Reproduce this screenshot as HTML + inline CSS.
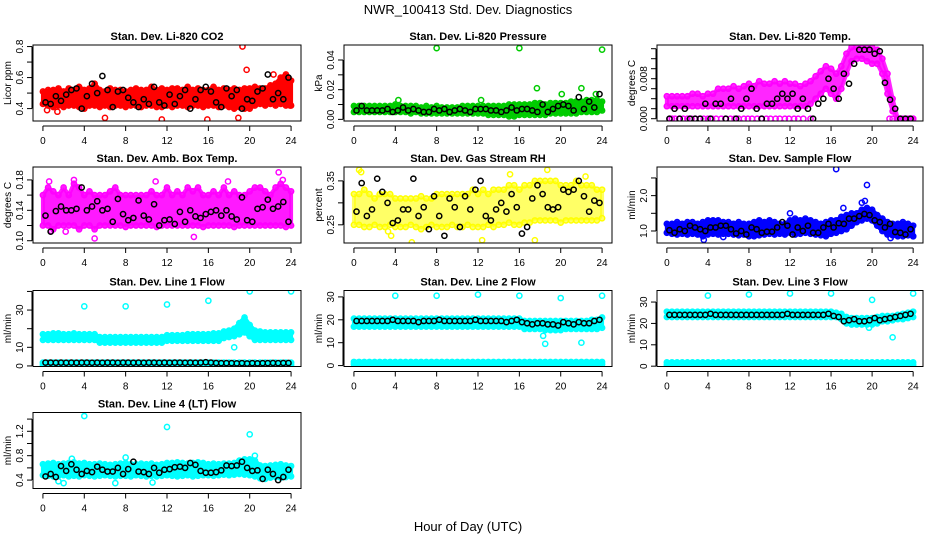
<!DOCTYPE html>
<html><head><meta charset="utf-8"><style>
html,body{margin:0;padding:0;background:#fff;}
svg{display:block;font-family:"Liberation Sans",sans-serif;}
</style></head><body>
<svg id="chart" width="936" height="540" viewBox="0 0 936 540" xmlns="http://www.w3.org/2000/svg">
<rect width="936" height="540" fill="#fff"/>
<text x="468" y="14" font-size="13" text-anchor="middle">NWR_100413  Std. Dev. Diagnostics</text>
<text x="468" y="531" font-size="13" text-anchor="middle">Hour of Day (UTC)</text>
</svg>
<script>
const xTicks = [0,4,8,12,16,20,24];
// CO2
const co2Lo=[0.43,0.42,0.41,0.42,0.41,0.42,0.42,0.41,0.40,0.42,0.42,0.41,0.42,0.41,0.42,0.42,0.41,0.42,0.42,0.41,0.42,0.42,0.41,0.41,0.42,0.41,0.42,0.42,0.41,0.42,0.42,0.41,0.42,0.42,0.41,0.42,0.41,0.40,0.41,0.40,0.40,0.42,0.43,0.42,0.43,0.42,0.43,0.42,0.42];
const co2Hi=[0.51,0.52,0.52,0.53,0.51,0.53,0.52,0.54,0.52,0.53,0.56,0.52,0.51,0.53,0.52,0.52,0.51,0.52,0.53,0.52,0.52,0.54,0.52,0.53,0.52,0.53,0.53,0.52,0.54,0.52,0.53,0.52,0.52,0.54,0.52,0.53,0.52,0.53,0.52,0.53,0.53,0.54,0.53,0.53,0.55,0.56,0.60,0.62,0.58];
const co2Black=[0.44,0.43,0.48,0.45,0.49,0.52,0.53,0.40,0.48,0.56,0.50,0.61,0.52,0.41,0.51,0.52,0.47,0.44,0.41,0.46,0.43,0.54,0.44,0.42,0.49,0.43,0.48,0.52,0.40,0.46,0.52,0.54,0.51,0.44,0.41,0.53,0.48,0.52,0.40,0.46,0.45,0.51,0.53,0.62,0.46,0.50,0.46,0.60];
const co2OutX=[19.3,19.7,11.5,15.9,6,18.9,0.4,1.4,22.3,23.9];
const co2OutY=[0.8,0.65,0.33,0.33,0.34,0.34,0.39,0.38,0.62,0.42];
// Pressure
const presLo=[0.005,0.005,0.005,0.005,0.005,0.005,0.005,0.005,0.005,0.005,0.005,0.004,0.005,0.004,0.004,0.004,0.004,0.004,0.004,0.004,0.004,0.004,0.004,0.004,0.004,0.004,0.003,0.003,0.003,0.003,0.002,0.002,0.003,0.003,0.003,0.003,0.003,0.003,0.004,0.004,0.004,0.004,0.004,0.004,0.005,0.005,0.005,0.005,0.006];
const presHi=[0.009,0.009,0.009,0.009,0.009,0.009,0.009,0.009,0.010,0.009,0.009,0.009,0.009,0.008,0.009,0.008,0.009,0.008,0.008,0.008,0.008,0.009,0.009,0.009,0.009,0.009,0.009,0.009,0.009,0.009,0.010,0.010,0.010,0.010,0.010,0.011,0.011,0.010,0.011,0.011,0.011,0.011,0.012,0.012,0.012,0.013,0.013,0.013,0.012];
const presBlack=[0.006,0.009,0.006,0.006,0.006,0.006,0.007,0.005,0.006,0.008,0.006,0.007,0.006,0.005,0.005,0.007,0.006,0.007,0.005,0.006,0.007,0.006,0.005,0.007,0.007,0.007,0.006,0.006,0.005,0.006,0.008,0.006,0.007,0.007,0.006,0.005,0.010,0.005,0.007,0.009,0.010,0.009,0.006,0.015,0.007,0.012,0.008,0.017];
const presOutX=[8,16,24,17.7,20.1,22,23.4,4.3,12.3];
const presOutY=[0.048,0.048,0.047,0.021,0.017,0.021,0.017,0.013,0.013];
// Li-820 Temp
const tempLo=[0.0025,0.0025,0.0025,0.0025,0.0025,0.0025,0.0025,0.0025,0.0025,0.0025,0.0025,0.0025,0.0025,0.0025,0.0025,0.0025,0.0025,0.0025,0.0025,0.0025,0.0025,0.0025,0.0025,0.0025,0.0025,0.0025,0.0025,0.0025,0.003,0.004,0.005,0.006,0.005,0.004,0.006,0.009,0.0115,0.012,0.012,0.0115,0.011,0.011,0.009,0.005,0.0015,0,0,0,0];
const tempHi=[0.0045,0.0045,0.0045,0.0045,0.0045,0.005,0.005,0.0045,0.005,0.005,0.006,0.006,0.006,0.0065,0.006,0.0065,0.007,0.0065,0.0075,0.007,0.007,0.0075,0.007,0.0075,0.007,0.007,0.0065,0.007,0.0075,0.0085,0.0095,0.0105,0.010,0.009,0.0105,0.013,0.0143,0.0143,0.0142,0.0143,0.0143,0.0138,0.012,0.009,0.004,0,0,0,0];
const tempBlack=[0,0.002,0,0.002,0,0,0,0.003,0,0.003,0.003,0,0.004,0,0.002,0.004,0.006,0.002,0,0.003,0.003,0.004,0.005,0.004,0.005,0.002,0.004,0.002,0,0.003,0.004,0.008,0.006,0.004,0.009,0.007,0.011,0.0138,0.0138,0.0138,0.0130,0.0135,0.0072,0.0038,0.002,0,0,0];
const tempOutX=[0.3,0.5,0.8,1.2,1.6,2.0,2.4,2.8,3.2,3.6,4.0,4.4,4.8,5.3,5.7,6.2,6.6,7.0,7.5,7.9,8.3,8.8,9.2,9.7,10.1,10.6,11.0,11.5,11.9,12.4,12.8,13.3,14.0,21.7,22.0,22.4,22.8,23.2,23.6,24.0];
const tempOutY=[0,0,0,0,0,0,0,0,0,0,0,0,0,0,0,0,0,0,0,0,0,0,0,0,0,0,0,0,0,0,0,0,0,0,0,0,0,0,0,0];
// Amb box temp
const ambLo=[0.12,0.12,0.115,0.12,0.12,0.12,0.12,0.115,0.12,0.12,0.115,0.12,0.12,0.12,0.12,0.12,0.118,0.12,0.12,0.12,0.12,0.12,0.118,0.12,0.12,0.12,0.12,0.12,0.12,0.12,0.12,0.118,0.12,0.12,0.12,0.12,0.12,0.118,0.12,0.12,0.12,0.12,0.12,0.12,0.12,0.12,0.12,0.118,0.12];
const ambHi=[0.16,0.17,0.165,0.16,0.17,0.16,0.175,0.17,0.16,0.165,0.16,0.16,0.16,0.165,0.17,0.16,0.16,0.16,0.16,0.16,0.16,0.165,0.16,0.16,0.17,0.16,0.165,0.16,0.17,0.165,0.17,0.16,0.16,0.165,0.16,0.17,0.16,0.165,0.16,0.16,0.165,0.17,0.17,0.165,0.16,0.17,0.175,0.17,0.165];
const ambBlack=[0.133,0.112,0.139,0.145,0.140,0.140,0.142,0.170,0.140,0.145,0.152,0.140,0.142,0.125,0.155,0.135,0.127,0.130,0.153,0.133,0.128,0.148,0.120,0.127,0.128,0.122,0.138,0.125,0.140,0.132,0.130,0.135,0.138,0.140,0.133,0.140,0.132,0.128,0.157,0.127,0.125,0.142,0.144,0.154,0.142,0.145,0.151,0.125];
const ambOutX=[0.8,2.2,5,14.6,22.8,3,0.6,23.2,10.9,17.9];
const ambOutY=[0.113,0.112,0.103,0.105,0.19,0.18,0.178,0.18,0.178,0.178];
// RH
const rhLo=[0.25,0.25,0.245,0.245,0.25,0.245,0.245,0.25,0.245,0.245,0.245,0.25,0.245,0.24,0.245,0.25,0.245,0.245,0.245,0.25,0.245,0.245,0.25,0.245,0.245,0.245,0.25,0.245,0.25,0.25,0.255,0.25,0.25,0.255,0.255,0.26,0.26,0.26,0.26,0.26,0.255,0.26,0.26,0.26,0.26,0.26,0.26,0.26,0.265];
const rhHi=[0.32,0.32,0.33,0.32,0.31,0.32,0.32,0.32,0.31,0.31,0.31,0.31,0.31,0.315,0.31,0.31,0.32,0.32,0.32,0.32,0.32,0.32,0.32,0.33,0.32,0.33,0.32,0.33,0.33,0.33,0.34,0.34,0.33,0.34,0.34,0.35,0.35,0.35,0.35,0.35,0.34,0.34,0.34,0.35,0.34,0.34,0.34,0.33,0.33];
const rhBlack=[0.28,0.345,0.27,0.285,0.355,0.325,0.30,0.254,0.26,0.285,0.285,0.355,0.27,0.29,0.24,0.315,0.27,0.225,0.31,0.29,0.245,0.315,0.285,0.33,0.35,0.27,0.26,0.285,0.30,0.28,0.32,0.29,0.23,0.245,0.31,0.34,0.32,0.29,0.285,0.29,0.33,0.325,0.33,0.35,0.315,0.28,0.305,0.30];
const rhOutX=[0.5,0.7,5.6,17.5,18.7,3.3,3.6,12.4,15.1,22.4];
const rhOutY=[0.375,0.37,0.21,0.215,0.375,0.235,0.225,0.215,0.365,0.36];
// Sample flow
const sfLo=[0.95,0.92,0.9,0.92,0.9,0.92,0.9,0.85,0.9,0.92,0.9,0.92,0.92,0.9,0.88,0.9,0.85,0.85,0.88,0.9,0.92,0.9,0.92,0.9,0.95,0.9,0.92,0.95,0.92,0.9,0.88,0.85,0.92,0.95,1.0,1.05,1.15,1.25,1.3,1.35,1.3,1.15,1.0,0.9,0.88,0.85,0.85,0.88,0.85];
const sfHi=[1.2,1.2,1.25,1.2,1.25,1.25,1.2,1.25,1.3,1.3,1.3,1.25,1.25,1.2,1.25,1.2,1.2,1.25,1.3,1.25,1.3,1.25,1.2,1.2,1.3,1.35,1.3,1.35,1.3,1.25,1.2,1.25,1.3,1.3,1.4,1.45,1.5,1.5,1.6,1.65,1.6,1.45,1.35,1.25,1.2,1.2,1.25,1.2,1.15];
const sfBlack=[1.02,0.95,1.05,1.0,1.15,1.1,1.05,1.0,1.1,1.1,1.15,1.15,1.05,0.93,1.0,0.9,1.1,1.05,0.95,0.98,0.98,1.1,1.25,1.15,0.9,1.1,1.0,1.15,0.95,0.95,1.1,1.2,1.1,1.22,1.2,1.35,1.35,1.42,1.48,1.45,1.3,1.25,1.1,1.2,0.97,0.95,0.9,1.05];
const sfOutX=[16.5,19.5,19.3,19,17.2,12,3.6,5.5,21.8,24];
const sfOutY=[2.75,2.3,1.85,1.8,1.65,1.5,0.75,0.83,0.8,0.85];
// Line 1
const l1Lo=[14,14,14,14,14,14,14,14,14,14,14,12.5,12.5,12.5,12.5,12.5,12.5,12.5,12.5,12.5,12.5,12.5,12.5,12.5,13.5,13.5,13.5,13.5,13.5,13.5,13.5,13.5,13.5,13.5,13.5,15,15.5,16,17,18,16,14,14,14,14,14,14,14,14];
const l1Hi=[17,17,17.5,17.5,17,17,17.5,17,17,17,17,15.5,15.5,15.5,15.5,15.5,15.5,15.5,15.5,15.5,15.5,15.5,15.5,15.5,16.5,16.5,16.5,16.5,17,17,17,17,17,17.5,17.5,18.5,19,20,23,26,22,19,18.5,18,18,18,18,18,18];
const l1BaseLo=[0.6,0.6,0.6,0.6,0.6,0.6,0.6,0.6,0.6,0.6,0.6,0.6,0.6,0.6,0.6,0.6,0.6,0.6,0.6,0.6,0.6,0.6,0.6,0.6,0.6,0.6,0.6,0.6,0.6,0.6,0.6,0.6,0.6,0.6,0.6,0.6,0.6,0.6,0.6,0.6,0.6,0.6,0.6,0.6,0.6,0.6,0.6,0.6,0.6];
const l1BaseHi=[1.8,1.8,1.8,1.8,1.8,1.8,1.8,1.8,1.8,1.8,1.8,1.8,1.8,1.8,1.8,1.8,1.8,1.8,1.8,1.8,1.8,1.8,1.8,1.8,1.8,1.8,1.8,1.8,1.8,1.8,1.8,1.8,1.8,1.8,1.8,1.8,1.8,1.8,1.8,1.8,1.8,1.8,1.8,1.8,1.8,1.8,1.8,1.8,1.8];
const l1Black=[1.8,1.8,1.7,1.8,1.7,1.8,1.7,1.8,1.8,1.7,1.8,1.7,1.8,1.8,1.7,1.8,1.8,1.7,1.8,1.7,1.8,1.8,1.7,1.8,1.7,1.8,1.8,1.7,1.8,1.7,1.8,2.0,1.8,1.6,1.5,1.5,1.5,1.4,1.5,1.3,1.5,1.4,1.5,1.5,1.6,1.5,1.6,1.6];
const l1OutX=[4,8,12,16,20,24,18.5,20];
const l1OutY=[32,32,33,35,40,40,10,16];
// Line 2
const l2Lo=[17,17,17,17,17,17,17,17,17,17,17,17,17,17,17,17,17,17,17,17,17,17,17,17,17,17,17,17,17,17,17,17,17,16,16,16,16,15.5,15.5,15.5,15.5,16,16,16,16,16,16,16,16.5];
const l2Hi=[20.5,20.5,20.5,20.5,20.5,20.5,20.5,20.5,20.5,20.5,20.5,20.5,20.5,20.5,20.5,20.5,20.5,20.5,20.5,20.5,20.5,20.5,20.5,20.5,20.5,20.5,20.5,20.5,20.5,20.5,20.5,20.5,20.5,19.5,19.5,19.5,19.5,19.5,19.5,19.5,19.5,19.5,19.5,19.5,19.5,19.5,20,20,21];
const l2BaseLo=l1BaseLo;
const l2BaseHi=[1.6,1.6,1.6,1.6,1.6,1.6,1.6,1.6,1.6,1.6,1.6,1.6,1.6,1.6,1.6,1.6,1.6,1.6,1.6,1.6,1.6,1.6,1.6,1.6,1.6,1.6,1.6,1.6,1.6,1.6,1.6,1.6,1.6,1.6,1.6,1.6,1.6,1.6,1.6,1.6,1.6,1.6,1.6,1.6,1.6,1.6,1.6,1.6,1.6];
const l2Black=[19.5,19.5,19.5,19.5,19.5,19.5,19.5,20,19.5,19.5,19.5,19.5,19,19.5,19.5,19.5,20,19.5,19.5,19.5,19.5,19.5,19.5,20,19.5,19.5,19.5,19.5,19.5,19,19.5,20,19,18.5,18,18.5,18.5,18,18,17.5,19,18.5,18,19,18.5,18.5,19.5,20];
const l2OutX=[4,8,12,16,20,24,18.3,18.5,22];
const l2OutY=[30.5,30.5,31,30.5,29.5,30.5,13,9.5,10];
// Line 3
const l3Lo=[23,23,23,23,23,23,23,23,23,23,23,23,23,23,23,23,23,23,23,23,23,23,23,23,23,23,23,23,23,23,23,23,23,23,22,20,19.5,19.5,19.5,19.5,19.5,20,21,21,21.5,22,22,22.5,23];
const l3Hi=[25.5,25.5,25.5,25.5,25.5,25.5,25.5,25.5,25.5,25.5,25.5,25.5,25.5,25.5,25.5,25.5,25.5,25.5,25.5,25.5,25.5,25.5,25.5,25.5,25.5,25.5,25.5,25.5,25.5,25.5,25.5,25.5,25.5,25,24.5,23,22.5,22.5,22.5,22.5,22.5,23,23.5,23.5,23.5,24,24.5,25,25.5];
const l3BaseLo=l1BaseLo;
const l3BaseHi=l1BaseHi;
const l3Black=[24,24,24,24,24,24,24,24,24.5,24,24,24,24,24,24,24,24,24,24,24,24,24,24,24.5,24,24,24,24,24,24,24,24.5,23.5,23,21,21.5,22,21,21,21.5,22.5,21.5,22,22.5,23,23.5,24,24.5];
const l3OutX=[4,8,12,16,20,24,22,19.7];
const l3OutY=[33,33.5,34,34,31,34,13.5,18];
// Line 4
const l4Lo=[0.48,0.47,0.46,0.47,0.48,0.46,0.47,0.46,0.48,0.47,0.46,0.47,0.48,0.47,0.46,0.47,0.47,0.46,0.48,0.47,0.46,0.47,0.46,0.47,0.48,0.47,0.46,0.47,0.48,0.46,0.47,0.48,0.48,0.47,0.48,0.49,0.48,0.49,0.50,0.49,0.48,0.46,0.43,0.42,0.44,0.45,0.44,0.45,0.46];
const l4Hi=[0.66,0.67,0.68,0.66,0.67,0.68,0.69,0.67,0.68,0.66,0.66,0.67,0.66,0.65,0.66,0.67,0.68,0.66,0.66,0.67,0.66,0.67,0.65,0.66,0.68,0.68,0.69,0.68,0.67,0.68,0.69,0.68,0.66,0.67,0.66,0.67,0.67,0.68,0.72,0.74,0.74,0.72,0.64,0.63,0.64,0.65,0.66,0.64,0.63];
const l4Black=[0.46,0.50,0.45,0.63,0.55,0.66,0.57,0.50,0.55,0.53,0.62,0.57,0.54,0.54,0.60,0.50,0.58,0.70,0.54,0.53,0.50,0.60,0.52,0.57,0.58,0.61,0.62,0.60,0.68,0.65,0.55,0.52,0.52,0.53,0.56,0.64,0.63,0.64,0.70,0.60,0.55,0.56,0.42,0.57,0.50,0.40,0.45,0.57];
const l4OutX=[4,12,20,20.5,7,2,10.6,1.5,2.8,8];
const l4OutY=[1.45,1.27,1.15,0.8,0.35,0.35,0.36,0.38,0.75,0.77];

const gridHours = co2Lo.map((v,i)=>i*0.5);
const blackHours = co2Black.map((v,i)=>0.25+i*0.5);

const NS="http://www.w3.org/2000/svg";
const svg=document.getElementById('chart');
const colL=[33,344,657], colW=[268,268,266], rowT=[45,167,290.5,412.5], H=76;

const panels=[
 {name:'co2',title:'Stan. Dev. Li-820 CO2',ylab:'Licor ppm',c:0,r:0,col:'#ff0000',ymin:0.32,ymax:0.81,ticks:[0.4,0.5,0.6,0.7,0.8],labels:['0.4','','0.6','','0.8'],bands:[[co2Lo,co2Hi]],black:co2Black,ox:co2OutX,oy:co2OutY,op:1},
 {name:'pressure',title:'Stan. Dev. Li-820 Pressure',ylab:'kPa',c:1,r:0,col:'#00cc00',ymin:-0.0011,ymax:0.0501,ticks:[0,0.01,0.02,0.03,0.04],labels:['0.00','','0.02','','0.04'],bands:[[presLo,presHi]],black:presBlack,ox:presOutX,oy:presOutY,op:1},
 {name:'li820-temp',title:'Stan. Dev. Li-820 Temp.',ylab:'degrees C',c:2,r:0,col:'#ff00ff',ymin:-0.00046,ymax:0.01474,ticks:[0,0.002,0.004,0.006,0.008,0.010,0.012,0.014],labels:['0.000','','','','0.008','','',''],bands:[[tempLo,tempHi]],black:tempBlack,ox:tempOutX,oy:tempOutY,op:0.85},
 {name:'amb-box-temp',title:'Stan. Dev. Amb. Box Temp.',ylab:'degrees C',c:0,r:1,col:'#ff00ff',ymin:0.097,ymax:0.197,ticks:[0.10,0.12,0.14,0.16,0.18],labels:['0.10','','0.14','','0.18'],bands:[[ambLo,ambHi]],black:ambBlack,ox:ambOutX,oy:ambOutY,op:0.9},
 {name:'gas-stream-rh',title:'Stan. Dev. Gas Stream RH',ylab:'percent',c:1,r:1,col:'#ffff00',ymin:0.2086,ymax:0.3816,ticks:[0.25,0.30,0.35],labels:['0.25','','0.35'],bands:[[rhLo,rhHi]],black:rhBlack,ox:rhOutX,oy:rhOutY,op:0.6},
 {name:'sample-flow',title:'Stan. Dev. Sample Flow',ylab:'ml/min',c:2,r:1,col:'#0000ff',ymin:0.66,ymax:2.81,ticks:[1.0,1.5,2.0,2.5],labels:['1.0','','2.0',''],bands:[[sfLo,sfHi]],black:sfBlack,ox:sfOutX,oy:sfOutY,op:1},
 {name:'line1-flow',title:'Stan. Dev. Line 1 Flow',ylab:'ml/min',c:0,r:2,col:'#00ffff',ymin:-0.3,ymax:40.5,ticks:[0,10,20,30,40],labels:['0','10','','30',''],bands:[[l1Lo,l1Hi],[l1BaseLo,l1BaseHi]],black:l1Black,ox:l1OutX,oy:l1OutY,op:1},
 {name:'line2-flow',title:'Stan. Dev. Line 2 Flow',ylab:'ml/min',c:1,r:2,col:'#00ffff',ymin:-0.4,ymax:32.8,ticks:[0,10,20,30],labels:['0','10','20','30'],bands:[[l2Lo,l2Hi],[l2BaseLo,l2BaseHi]],black:l2Black,ox:l2OutX,oy:l2OutY,op:1},
 {name:'line3-flow',title:'Stan. Dev. Line 3 Flow',ylab:'ml/min',c:2,r:2,col:'#00ffff',ymin:-0.15,ymax:35.4,ticks:[0,10,20,30],labels:['0','10','20','30'],bands:[[l3Lo,l3Hi],[l3BaseLo,l3BaseHi]],black:l3Black,ox:l3OutX,oy:l3OutY,op:1},
 {name:'line4-flow',title:'Stan. Dev. Line 4 (LT) Flow',ylab:'ml/min',c:0,r:3,col:'#00ffff',ymin:0.262,ymax:1.508,ticks:[0.4,0.6,0.8,1.0,1.2,1.4],labels:['0.4','','0.8','','1.2',''],bands:[[l4Lo,l4Hi]],black:l4Black,ox:l4OutX,oy:l4OutY,op:1}
];

function mk(tag,attrs,parent){const e=document.createElementNS(NS,tag);for(const k in attrs)e.setAttribute(k,attrs[k]);(parent||svg).appendChild(e);return e;}

panels.forEach(p=>{
  const L=colL[p.c], W=colW[p.c], T=rowT[p.r], B=T+H;
  const xs=h=>L+(h+0.96)/25.92*W;
  const ys=v=>B-(v-p.ymin)/(p.ymax-p.ymin)*H;
  const g=mk('g',{});
  
  
  const clip=mk('clipPath',{id:'clip-'+p.name},g);
  mk('rect',{x:L,y:T,width:W,height:H},clip);
  const marks=mk('g',{'clip-path':'url(#clip-'+p.name+')'},g);
  p.bands.forEach((bd,bi)=>{
    const lo=bd[0],hi=bd[1];
    let pts=[];
    gridHours.forEach((h,i)=>pts.push(xs(h)+','+ys(hi[i])));
    for(let i=gridHours.length-1;i>=0;i--)pts.push(xs(gridHours[i])+','+ys(lo[i]));
    const poly=mk('polygon',{points:pts.join(' '),fill:p.col,'fill-opacity':p.op,stroke:p.col,'stroke-width':4,'stroke-linejoin':'round','stroke-opacity':p.op},marks);
    
    
    gridHours.forEach((h,i)=>{
      [lo[i],hi[i]].forEach(v=>{
        const c=mk('circle',{cx:xs(h),cy:ys(v),r:2.6,fill:'none',stroke:p.col,'stroke-width':1.5},marks);
        
        
      });
    });
  });
  p.ox.forEach((h,i)=>{
    const c=mk('circle',{cx:xs(h),cy:ys(p.oy[i]),r:2.6,fill:'none',stroke:p.col,'stroke-width':1.5},marks);
    
    
  });
  p.black.forEach((v,i)=>{
    const c=mk('circle',{cx:xs(blackHours[i]),cy:ys(v),r:2.6,fill:'none',stroke:'#000','stroke-width':1.5},marks);
    
    
  });
  const box=mk('rect',{x:L,y:T,width:W,height:H,fill:'none',stroke:'#000','stroke-width':1},g);
  
  
  const t=mk('text',{x:L+W/2,y:T-5,'font-size':11,'font-weight':'bold','text-anchor':'middle'},g);
  t.textContent=p.title;
  
  
  // x axis
  const xa=mk('g',{},g);
  
  
  mk('line',{x1:xs(xTicks[0]),x2:xs(xTicks[xTicks.length-1]),y1:B+5,y2:B+5,stroke:'#000'},xa);
  xTicks.forEach(h=>{
    mk('line',{x1:xs(h),x2:xs(h),y1:B+5,y2:B+10,stroke:'#000'},xa);
    const tx=mk('text',{x:xs(h),y:B+23,'font-size':10,'text-anchor':'middle'},xa);
    tx.textContent=h;
  });
  // y axis
  const ya=mk('g',{},g);
  
  
  const ax=L-1;
  mk('line',{x1:ax,x2:ax,y1:ys(p.ticks[0]),y2:ys(p.ticks[p.ticks.length-1]),stroke:'#000'},ya);
  p.ticks.forEach((v,i)=>{
    mk('line',{x1:ax-5,x2:ax,y1:ys(v),y2:ys(v),stroke:'#000'},ya);
    if(p.labels[i]){
      const tx=mk('text',{x:0,y:0,'font-size':10,'text-anchor':'middle',transform:'translate('+(ax-9)+','+ys(v)+') rotate(-90)'},ya);
      tx.textContent=p.labels[i];
    }
  });
  const yl=mk('text',{x:0,y:0,'font-size':10,'text-anchor':'middle',transform:'translate('+(L-22)+','+(T+H/2)+') rotate(-90)'},g);
  yl.textContent=p.ylab;
  
  
});
</script>
</body></html>
